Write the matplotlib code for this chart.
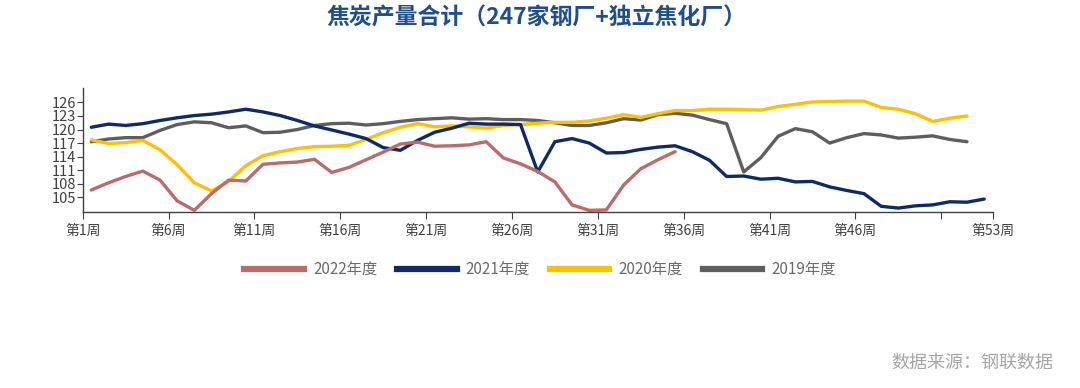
import matplotlib
matplotlib.use("Agg")
import matplotlib.pyplot as plt
import numpy as np

plt.rcParams["font.family"] = ["Noto Sans CJK SC", "DejaVu Sans"]

# weekly coke output, 10k t
weeks_2022 = np.arange(1, 36)
y2022 = [106.6, 108.2, 109.6, 110.8, 108.8, 104.2, 102.1, 105.8, 108.8, 108.6,
         112.3, 112.6, 112.8, 113.4, 110.5, 111.6, 113.3, 115.0, 116.8, 117.2,
         116.3, 116.4, 116.6, 117.3, 113.7, 112.4, 110.7, 108.4, 103.3, 102.1,
         102.2, 107.7, 111.3, 113.3, 115.1]

weeks_2021 = np.arange(1, 54)
y2021 = [120.5, 121.2, 120.9, 121.3, 122.0, 122.6, 123.1, 123.4, 123.9, 124.5,
         123.9, 123.1, 122.0, 120.8, 119.9, 119.0, 118.0, 116.0, 115.4, 117.6,
         119.4, 120.3, 121.4, 121.2, 121.2, 121.1, 110.6, 117.3, 118.0, 117.0,
         114.8, 114.9, 115.6, 116.1, 116.4, 115.1, 113.2, 109.6, 109.7, 109.0,
         109.2, 108.4, 108.5, 107.3, 106.5, 105.8, 103.0, 102.6, 103.1, 103.3,
         104.0, 103.9, 104.6]

weeks_2020 = np.arange(1, 53)
y2020 = [117.7, 116.9, 117.1, 117.6, 115.5, 112.2, 108.2, 106.4, 108.5, 112.0,
         114.2, 115.1, 115.8, 116.2, 116.3, 116.5, 117.8, 119.3, 120.5, 121.3,
         120.6, 120.8, 120.6, 120.3, 120.9, 121.1, 121.4, 121.6, 121.6, 121.9,
         122.5, 123.3, 122.7, 123.5, 124.2, 124.2, 124.5, 124.5, 124.4, 124.3,
         125.1, 125.6, 126.1, 126.2, 126.3, 126.3, 124.9, 124.5, 123.5, 121.8,
         122.5, 123.0]

weeks_2019 = np.arange(1, 53)
y2019 = [117.3, 117.9, 118.2, 118.2, 119.8, 121.1, 121.7, 121.5, 120.4, 120.8,
         119.3, 119.4, 120.0, 120.9, 121.3, 121.4, 121.0, 121.3, 121.8, 122.2,
         122.4, 122.6, 122.3, 122.4, 122.2, 122.2, 122.0, 121.5, 120.9, 120.9,
         121.5, 122.4, 122.1, 123.3, 123.6, 123.2, 122.2, 121.3, 110.6, 113.8,
         118.5, 120.2, 119.5, 117.0, 118.2, 119.1, 118.8, 118.1, 118.3, 118.6,
         117.8, 117.3]

series = [
    ("2019年度", weeks_2019, y2019, "#5E5E5E"),
    ("2020年度", weeks_2020, y2020, "#FFC000"),
    ("2021年度", weeks_2021, y2021, "#0D2A6B"),
    ("2022年度", weeks_2022, y2022, "#BE6A6A"),
]
legend_order = ["2022年度", "2021年度", "2020年度", "2019年度"]

yticks = [105, 108, 111, 114, 117, 120, 123, 126]
xtick_pos = [0.5, 5.5, 10.5, 15.5, 20.5, 25.5, 30.5, 35.5, 40.5, 45.5, 50.5, 53.5]
xtick_labels = ["第1周", "第6周", "第11周", "第16周", "第21周", "第26周", "第31周",
                "第36周", "第41周", "第46周", "", "第53周"]

fig = plt.figure(figsize=(10.8, 3.88), dpi=100)
ax = fig.add_axes([0.0766, 0.4544, 0.8426, 0.3188])

lines = {}
for name, x, y, c in series:
    (ln,) = ax.plot(x, y, color=c, lw=2.4, solid_joinstyle="round",
                    solid_capstyle="round")
    lines[name] = ln

ax.set_xlim(0.5, 53.5)
ax.set_ylim(101.8, 129.2)
ax.set_yticks(yticks)
ax.set_xticks(xtick_pos)
ax.set_xticklabels(xtick_labels)

for s in ["top", "right"]:
    ax.spines[s].set_visible(False)
for s in ["left", "bottom"]:
    ax.spines[s].set_color("#404040")
    ax.spines[s].set_linewidth(1.0)
ax.tick_params(axis="x", length=5, width=0.8, color="#404040",
               labelsize=10, labelcolor="#404040", pad=4)
ax.tick_params(axis="y", length=4, width=0.8, color="#404040",
               labelsize=10.5, labelcolor="#404040", pad=1)

handles = [plt.Line2D([], [], color=lines[n].get_color(), lw=4.5) for n in legend_order]
fig.legend(handles, legend_order, loc="center", bbox_to_anchor=(0.5, 0.304),
           ncol=4, frameon=False, fontsize=11, handlelength=3.9,
           handletextpad=0.6, columnspacing=1.3, labelcolor="#6B6B6B")

fig.text(0.497, 0.953, "焦炭产量合计（247家钢厂+独立焦化厂）", ha="center", va="center",
         fontsize=16.5, fontweight="bold", color="#1F4E8C")
fig.text(0.975, 0.064, "数据来源：钢联数据", ha="right", va="center",
         fontsize=13, color="#A6A6A6")

fig.savefig("out.png", dpi=100)
